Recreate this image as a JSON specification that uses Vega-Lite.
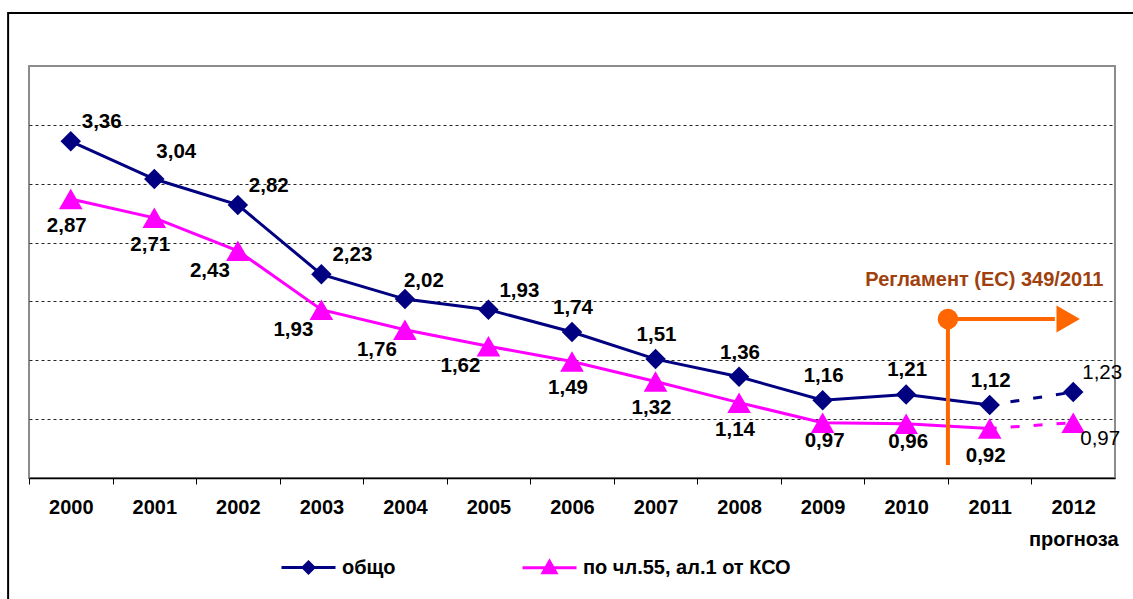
{
  "$schema": "https://vega.github.io/schema/vega-lite/v6.json",
  "width": 1086,
  "height": 412,
  "autosize": {"type": "none"},
  "padding": {"left": 29, "top": 66, "right": 18, "bottom": 121},
  "background": "white",
  "config": {
    "locale": {"number": {"decimal": ",", "thousands": " ", "grouping": [3], "currency": ["", ""]}},
    "view": {"stroke": "#8c8c8c", "strokeWidth": 2},
    "font": "Liberation Sans"
  },
  "datasets": {
    "main": [
      {"year": 2000, "series": "общо", "value": 3.36},
      {"year": 2001, "series": "общо", "value": 3.04},
      {"year": 2002, "series": "общо", "value": 2.82},
      {"year": 2003, "series": "общо", "value": 2.23},
      {"year": 2004, "series": "общо", "value": 2.02},
      {"year": 2005, "series": "общо", "value": 1.93},
      {"year": 2006, "series": "общо", "value": 1.74},
      {"year": 2007, "series": "общо", "value": 1.51},
      {"year": 2008, "series": "общо", "value": 1.36},
      {"year": 2009, "series": "общо", "value": 1.16},
      {"year": 2010, "series": "общо", "value": 1.21},
      {"year": 2011, "series": "общо", "value": 1.12},
      {"year": 2012, "series": "общо", "value": 1.23},
      {"year": 2000, "series": "по чл.55, ал.1 от КСО", "value": 2.87},
      {"year": 2001, "series": "по чл.55, ал.1 от КСО", "value": 2.71},
      {"year": 2002, "series": "по чл.55, ал.1 от КСО", "value": 2.43},
      {"year": 2003, "series": "по чл.55, ал.1 от КСО", "value": 1.93},
      {"year": 2004, "series": "по чл.55, ал.1 от КСО", "value": 1.76},
      {"year": 2005, "series": "по чл.55, ал.1 от КСО", "value": 1.62},
      {"year": 2006, "series": "по чл.55, ал.1 от КСО", "value": 1.49},
      {"year": 2007, "series": "по чл.55, ал.1 от КСО", "value": 1.32},
      {"year": 2008, "series": "по чл.55, ал.1 от КСО", "value": 1.14},
      {"year": 2009, "series": "по чл.55, ал.1 от КСО", "value": 0.97},
      {"year": 2010, "series": "по чл.55, ал.1 от КСО", "value": 0.96},
      {"year": 2011, "series": "по чл.55, ал.1 от КСО", "value": 0.92},
      {"year": 2012, "series": "по чл.55, ал.1 от КСО", "value": 0.97}
    ],
    "annot": [
      {"x": 2010.5, "ybottom": 0.61, "ytop": 1.85, "xend": 2011.78, "xtip": 2011.94, "textx": 2012.36, "texty": 2.18, "label": "Регламент (ЕС) 349/2011"}
    ],
    "frame": [
      {"x0": 1999.25, "x1": 2013.8, "y0": 4.45, "y1": -0.7}
    ]
  },
  "layer": [
    {
      "data": {"name": "frame"},
      "mark": {"type": "rect", "fill": null, "filled": false, "stroke": "black", "strokeWidth": 2},
      "encoding": {
        "x": {"field": "x0", "type": "quantitative", "scale": {"domain": [1999.5, 2012.5], "nice": false, "zero": false}},
        "x2": {"field": "x1"},
        "y": {"field": "y0", "type": "quantitative", "scale": {"domain": [0.5, 4], "nice": false, "zero": false}},
        "y2": {"field": "y1"}
      }
    },
    {
      "data": {"name": "main"},
      "encoding": {
        "x": {
          "field": "year", "type": "quantitative",
          "scale": {"domain": [1999.5, 2012.5], "nice": false, "zero": false},
          "axis": {
            "title": null, "values": [2000, 2001, 2002, 2003, 2004, 2005, 2006, 2007, 2008, 2009, 2010, 2011, 2012],
            "format": "d",
            "labelExpr": "datum.value == 2012 ? ['2012', 'прогноза'] : datum.label",
            "labelFont": "Liberation Sans", "labelFontSize": 20, "labelFontWeight": "bold", "labelColor": "black",
            "labelPadding": 13, "labelLineHeight": 32, "labelFlush": false, "labelOverlap": false,
            "tickOffset": -41.77, "labelOffset": 41.77, "tickSize": 6, "tickColor": "black", "tickWidth": 1,
            "domainColor": "black", "domainWidth": 1.5, "grid": false
          }
        },
        "y": {
          "field": "value", "type": "quantitative",
          "scale": {"domain": [0.5, 4], "nice": false, "zero": false},
          "axis": {
            "title": null, "labels": false, "ticks": false, "domain": false,
            "values": [1, 1.5, 2, 2.5, 3, 3.5],
            "grid": true, "gridColor": "black", "gridDash": [3, 3], "gridWidth": 1, "gridOpacity": 0.85
          }
        },
        "color": {
          "field": "series", "type": "nominal",
          "scale": {"domain": ["общо", "по чл.55, ал.1 от КСО"], "range": ["#000080", "#FF00FF"]},
          "legend": {
            "orient": "none", "legendX": 251, "legendY": 473, "direction": "horizontal", "title": null,
            "symbolSize": 2916, "symbolStrokeWidth": 3, "labelFont": "Liberation Sans", "labelFontSize": 20,
            "labelFontWeight": "bold", "labelColor": "black", "labelOffset": 5, "labelLimit": 0, "columnPadding": 120, "padding": 0,
            "encode": {
              "symbols": {
                "update": {
                  "shape": {"signal": "datum.value === 'общо' ? 'M-1,0H1M0,-0.2L0.2,0L0,0.2L-0.2,0Z' : 'M-1,0H1M0,-0.24L0.24,0.18L-0.24,0.18Z'"},
                  "fill": {"signal": "scale('color', datum.value)"},
                  "stroke": {"signal": "scale('color', datum.value)"},
                  "strokeWidth": {"value": 3},
                  "opacity": {"value": 1}
                }
              }
            }
          }
        }
      },
      "layer": [
        {
          "transform": [{"filter": "datum.year <= 2011"}],
          "mark": {"type": "line", "strokeWidth": 3}
        },
        {
          "transform": [{"filter": "datum.year >= 2011"}],
          "mark": {"type": "line", "strokeWidth": 3, "strokeDash": [9, 14], "strokeDashOffset": 2}
        },
        {
          "transform": [{"filter": "datum.series == 'общо'"}],
          "mark": {"type": "point", "shape": "diamond", "filled": true, "opacity": 1, "size": 420}
        },
        {
          "transform": [{"filter": "datum.series != 'общо'"}],
          "mark": {"type": "point", "shape": "triangle-up", "filled": true, "opacity": 1, "size": 560}
        }
      ]
    },
    {
      "data": {"name": "main"},
      "encoding": {
        "x": {"field": "year", "type": "quantitative"},
        "y": {"field": "value", "type": "quantitative"},
        "text": {"field": "value", "type": "quantitative", "format": ".2f"}
      },
      "layer": [
        {"transform": [{"filter": "datum.series == 'общо' && indexof([2000, 2002, 2003, 2005], datum.year) >= 0"}],
         "mark": {"type": "text", "fontSize": 20.5, "fontWeight": "bold", "color": "black", "align": "left", "dx": 11, "dy": -19}},
        {"transform": [{"filter": "datum.series == 'общо' && datum.year == 2004"}],
         "mark": {"type": "text", "fontSize": 20.5, "fontWeight": "bold", "color": "black", "align": "center", "dx": 19, "dy": -18}},
        {"transform": [{"filter": "datum.series == 'общо' && datum.year == 2001"}],
         "mark": {"type": "text", "fontSize": 20.5, "fontWeight": "bold", "color": "black", "align": "center", "dx": 22, "dy": -27}},
        {"transform": [{"filter": "datum.series == 'общо' && datum.year >= 2006 && datum.year <= 2011"}],
         "mark": {"type": "text", "fontSize": 20.5, "fontWeight": "bold", "color": "black", "align": "center", "dx": 1, "dy": -24}},
        {"transform": [{"filter": "datum.series == 'общо' && datum.year == 2012"}],
         "mark": {"type": "text", "fontSize": 20.5, "fontWeight": "normal", "color": "black", "align": "center", "dx": 29, "dy": -19}},
        {"transform": [{"filter": "datum.series != 'общо' && indexof([2000, 2001, 2006, 2007, 2008, 2011], datum.year) >= 0"}],
         "mark": {"type": "text", "fontSize": 20.5, "fontWeight": "bold", "color": "black", "align": "center", "dx": -4, "dy": 27}},
        {"transform": [{"filter": "datum.series != 'общо' && indexof([2002, 2003, 2004, 2005], datum.year) >= 0"}],
         "mark": {"type": "text", "fontSize": 20.5, "fontWeight": "bold", "color": "black", "align": "center", "dx": -28, "dy": 20}},
        {"transform": [{"filter": "datum.series != 'общо' && (datum.year == 2009 || datum.year == 2010)"}],
         "mark": {"type": "text", "fontSize": 20.5, "fontWeight": "bold", "color": "black", "align": "center", "dx": 2, "dy": 18}},
        {"transform": [{"filter": "datum.series != 'общо' && datum.year == 2012"}],
         "mark": {"type": "text", "fontSize": 20.5, "fontWeight": "normal", "color": "black", "align": "center", "dx": 27, "dy": 16}}
      ]
    },
    {
      "data": {"name": "annot"},
      "layer": [
        {
          "mark": {"type": "rule", "color": "#FF6600", "strokeWidth": 4},
          "encoding": {
            "x": {"field": "x", "type": "quantitative"},
            "y": {"field": "ybottom", "type": "quantitative"},
            "y2": {"field": "ytop"}
          }
        },
        {
          "mark": {"type": "rule", "color": "#FF6600", "strokeWidth": 4},
          "encoding": {
            "x": {"field": "x", "type": "quantitative"},
            "x2": {"field": "xend"},
            "y": {"field": "ytop", "type": "quantitative"}
          }
        },
        {
          "mark": {"type": "point", "shape": "circle", "filled": true, "color": "#FF6600", "opacity": 1, "size": 420},
          "encoding": {
            "x": {"field": "x", "type": "quantitative"},
            "y": {"field": "ytop", "type": "quantitative"}
          }
        },
        {
          "mark": {"type": "point", "shape": "triangle-right", "filled": true, "color": "#FF6600", "opacity": 1, "size": 729},
          "encoding": {
            "x": {"field": "xtip", "type": "quantitative"},
            "y": {"field": "ytop", "type": "quantitative"}
          }
        },
        {
          "mark": {"type": "text", "align": "right", "baseline": "middle", "fontSize": 20, "fontWeight": "bold", "color": "#A0410D"},
          "encoding": {
            "x": {"field": "textx", "type": "quantitative"},
            "y": {"field": "texty", "type": "quantitative"},
            "text": {"field": "label"}
          }
        }
      ]
    }
  ]
}
